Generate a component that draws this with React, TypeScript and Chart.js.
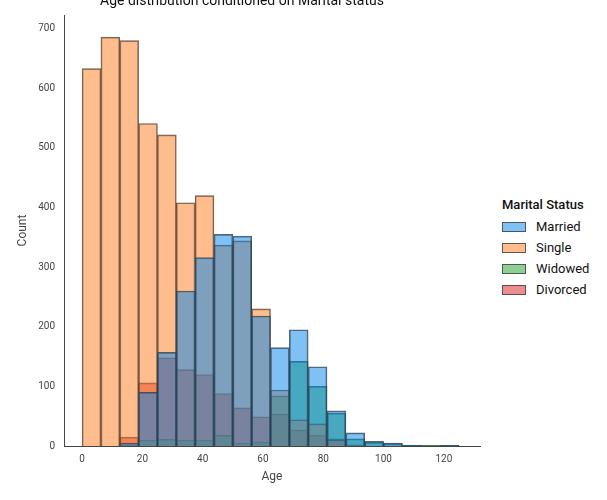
import React, { useEffect, useRef } from 'react';
import { Chart, registerables } from 'chart.js';

Chart.register(...registerables);

const binWidth = 6.25;
const binCenters = Array.from({ length: 20 }, (_, i) => i * binWidth + binWidth / 2);

const statuses = ['Married', 'Single', 'Widowed', 'Divorced'];
const married = [0, 0, 5, 90, 157, 260, 316, 355, 352, 218, 165, 195, 133, 59, 22, 8, 5, 1, 0, 1];
const single = [633, 686, 680, 541, 522, 408, 420, 337, 344, 230, 94, 44, 37, 10, 0, 0, 0, 0, 0, 0];
const widowed = [0, 0, 2, 10, 11, 10, 10, 18, 5, 7, 84, 142, 100, 55, 12, 6, 4, 1, 1, 1];
const divorced = [0, 0, 15, 106, 148, 128, 120, 88, 64, 49, 54, 27, 18, 12, 2, 0, 0, 0, 0, 0];
const yTicks = [0, 100, 200, 300, 400, 500, 600, 700];
const xTicks = [0, 20, 40, 60, 80, 100, 120];

const fills = ['rgba(0,132,235,0.5)', 'rgba(255,124,30,0.5)', 'rgba(30,160,40,0.5)', 'rgba(214,30,30,0.5)'];
const edge = 'rgba(60,60,60,0.8)';
const font = "Roboto, 'Noto Sans', sans-serif";

const App: React.FC = () => {
    const chartRef = useRef<HTMLCanvasElement>(null);
    const chartInstance = useRef<Chart | null>(null);

    useEffect(() => {
        if (!chartRef.current) return;
        const ctx = chartRef.current.getContext('2d');
        if (!ctx) return;
        if (chartInstance.current) chartInstance.current.destroy();

        const series = [married, single, widowed, divorced];
        chartInstance.current = new Chart(ctx, {
            type: 'bar',
            data: {
                datasets: series.map((vals, i) => ({
                    label: statuses[i],
                    data: vals.map((v, j) => ({ x: binCenters[j], y: v })),
                    backgroundColor: fills[i],
                    borderColor: edge,
                    borderWidth: 1,
                    barPercentage: 1,
                    categoryPercentage: 1,
                    grouped: false,
                })),
            },
            options: {
                animation: false,
                responsive: false,
                layout: { padding: { top: 15, right: 10, left: 12, bottom: 12 } },
                plugins: { legend: { display: false }, tooltip: { enabled: false } },
                scales: {
                    x: {
                        type: 'linear',
                        offset: false,
                        min: -6,
                        max: 132,
                        afterFit: (s: any) => { s.height = 42; },
                        afterBuildTicks: (s: any) => { s.ticks = xTicks.map(v => ({ value: v })); },
                        grid: { display: false, drawTicks: true, tickLength: 5, tickColor: '#444' },
                        border: { color: '#444', width: 1 },
                        ticks: { color: '#444', font: { family: font, size: 10 }, padding: 2 },
                        title: { display: true, text: 'Age', color: '#444', font: { family: font, size: 12 }, padding: { top: 2 } },
                    },
                    y: {
                        min: 0,
                        max: 723,
                        afterFit: (s: any) => { s.width = 52; },
                        afterBuildTicks: (s: any) => { s.ticks = yTicks.map(v => ({ value: v })); },
                        grid: { display: false, drawTicks: true, tickLength: 5, tickColor: '#444' },
                        border: { color: '#444', width: 1 },
                        ticks: { color: '#444', font: { family: font, size: 10 }, padding: 4 },
                        title: { display: true, text: 'Count', color: '#444', font: { family: font, size: 12 }, padding: { bottom: 2 } },
                    },
                },
            },
        });

        return () => {
            if (chartInstance.current) chartInstance.current.destroy();
        };
    }, []);

    return (
        <div style={{ position: 'fixed', left: 0, top: 0, width: 607, height: 500, background: '#fff', overflow: 'hidden', fontFamily: font }}>
            <canvas ref={chartRef} width={490} height={500} style={{ position: 'absolute', left: 0, top: 0 }}></canvas>
            <div style={{ position: 'absolute', left: 100, top: -8, fontSize: 14, color: '#111', whiteSpace: 'nowrap' }}>
                Age distribution conditioned on Marital status
            </div>
            <div style={{ position: 'absolute', left: 502, top: 197, color: '#111', fontSize: 13 }}>
                <div style={{ fontWeight: 500, marginBottom: 4 }}>Marital Status</div>
                {statuses.map((s, i) => (
                    <div key={s} style={{ display: 'flex', alignItems: 'center', height: 21 }}>
                        <span style={{ width: 24, height: 10, background: fills[i], border: `1px solid ${edge}`, marginRight: 10, boxSizing: 'border-box' }} />
                        {s}
                    </div>
                ))}
            </div>
        </div>
    );
};

export default App;
